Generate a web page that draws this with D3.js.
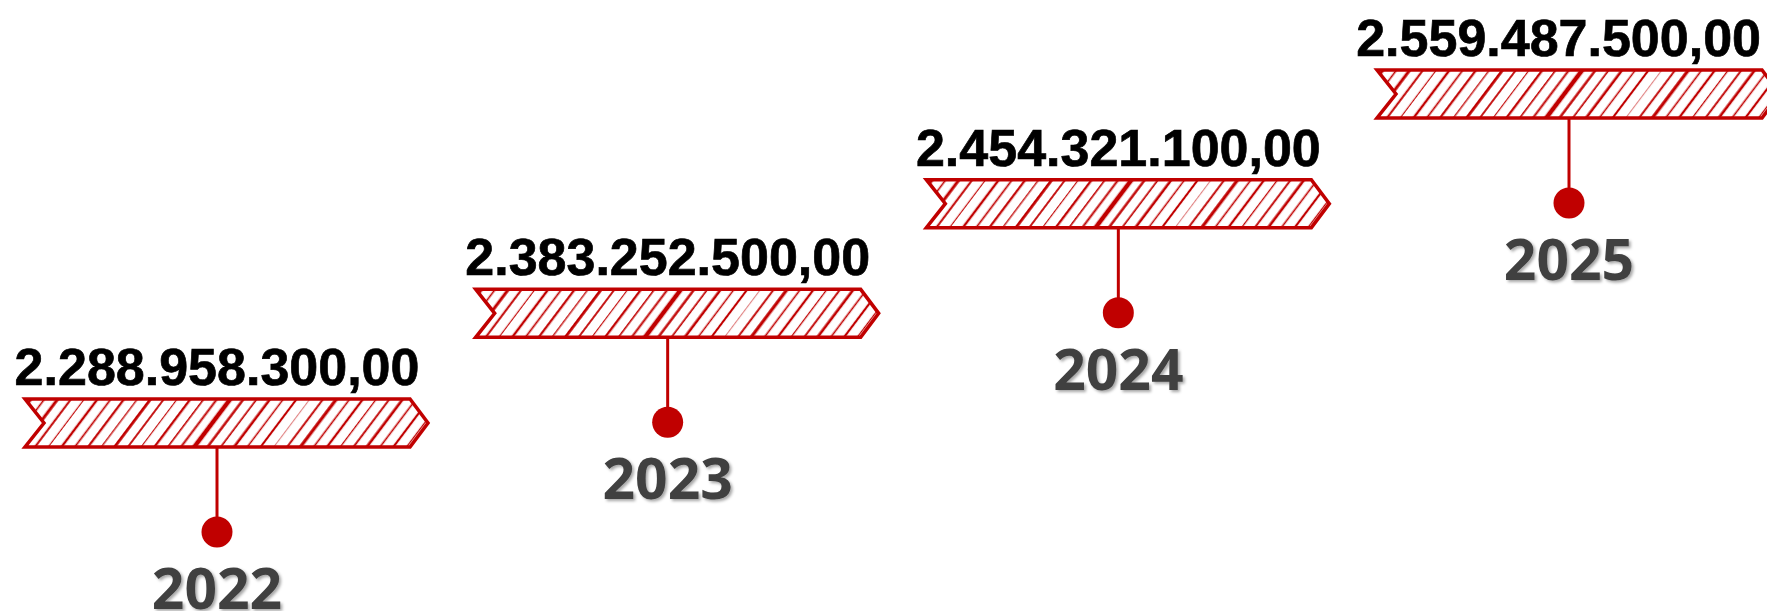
<!DOCTYPE html>
<html>
<head>
<meta charset="utf-8">
<script src="https://cdn.jsdelivr.net/npm/d3@7"></script>
<style>
  body { margin: 0; background: #fff; }
  svg { display: block; }
</style>
</head>
<body>
<div id="chart"></div>
<script>
var years = ["2022", "2023", "2024", "2025"];
var amounts = [2288958300, 2383252500, 2454321100, 2559487500];
var amountLabels = ["2.288.958.300,00", "2.383.252.500,00", "2.454.321.100,00", "2.559.487.500,00"];

var w = 1767;
var h = 611;
var red = "#C00000";

// ribbon shape
var ribW = 403, ribH = 48, notch = 19, tip = 18, stemOff = 192;

var data = years.map(function(y, i){
    return {year: y, value: amounts[i], label: amountLabels[i]};
});

// one step per year, stems left to right, ribbons climbing up
var x = d3.scalePoint().domain(years).range([217, 1569]);
var y = d3.scalePoint().domain(years).range([399, 70]);

var svg = d3.select("#chart").append("svg")
    .attr("width", w)
    .attr("height", h);

var defs = svg.append("defs");

// hatch fill, lines of uneven weight like the original
var pat = defs.append("pattern")
    .attr("id", "hatch")
    .attr("patternUnits", "userSpaceOnUse")
    .attr("width", 340)
    .attr("height", 20)
    .attr("patternTransform", "rotate(37)");
pat.append("rect").attr("width", 340).attr("height", 20).attr("fill", "#fff");
var weights = [2.6, 1.6, 3, 2, 1.1, 2.4, 1.7, 2.2, 1.3, 2.8, 1.8, 1.1, 2.3, 1.6, 2, 4.5, 2.4, 1.7, 2.6, 1.5, 2.1, 0.9, 1.9, 3.2, 1.6, 2.3, 1.3, 1.9, 2.7, 1.6, 2.2, 1.4];
weights.forEach(function(sw, k){
    pat.append("line")
        .attr("x1", 5 + k * 10.6).attr("x2", 5 + k * 10.6)
        .attr("y1", 0).attr("y2", 20)
        .attr("stroke", red)
        .attr("stroke-opacity", sw < 1 ? 0.6 : 1)
        .attr("stroke-width", sw);
});

var shadow = defs.append("filter").attr("id", "shadow")
    .attr("x", "-10%").attr("y", "-10%").attr("width", "130%").attr("height", "140%");
shadow.append("feDropShadow")
    .attr("dx", 2).attr("dy", 2)
    .attr("stdDeviation", 1.5)
    .attr("flood-color", "#000")
    .attr("flood-opacity", 0.35);

var ribbon = [[0, 0], [ribW - tip, 0], [ribW, ribH / 2], [ribW - tip, ribH], [0, ribH], [notch, ribH / 2]];

var g = svg.selectAll("g.step")
    .data(data)
    .enter()
    .append("g")
    .attr("class", "step")
    .attr("transform", function(d){ return "translate(" + (x(d.year) - stemOff) + "," + y(d.year) + ")"; });

g.append("line")
    .attr("x1", stemOff).attr("x2", stemOff)
    .attr("y1", ribH).attr("y2", 133)
    .attr("stroke", red)
    .attr("stroke-width", 3);

g.append("polygon")
    .attr("points", ribbon.map(function(p){ return p.join(","); }).join(" "))
    .attr("fill", "url(#hatch)")
    .attr("stroke", red)
    .attr("stroke-width", 3.5)
    .attr("stroke-linejoin", "miter");

g.append("circle")
    .attr("cx", stemOff)
    .attr("cy", 133)
    .attr("r", 15.5)
    .attr("fill", red);

var nums = g.append("text")
    .attr("x", stemOff)
    .attr("y", -14)
    .attr("text-anchor", "middle")
    .attr("font-family", "'Liberation Sans', Arial, sans-serif")
    .attr("font-weight", "bold")
    .attr("font-size", 52)
    .attr("fill", "#000")
    .attr("stroke", "#000")
    .attr("stroke-width", 0.7)
    .text(function(d){ return d.label; });

// keep the last label inside the page
nums.each(function(d){
    var b = this.getBBox();
    var right = x(d.year) - stemOff + b.x + b.width;
    if (right > w - 6) d3.select(this).attr("x", stemOff - (right - (w - 6)));
});

g.append("text")
    .attr("x", stemOff)
    .attr("y", 133 + 77)
    .attr("text-anchor", "middle")
    .attr("font-family", "'Open Sans', 'Noto Sans', sans-serif")
    .attr("font-weight", "bold")
    .attr("font-size", 57)
    .attr("fill", "#404040")
    .attr("filter", "url(#shadow)")
    .text(function(d){ return d.year; });
</script>
</body>
</html>
